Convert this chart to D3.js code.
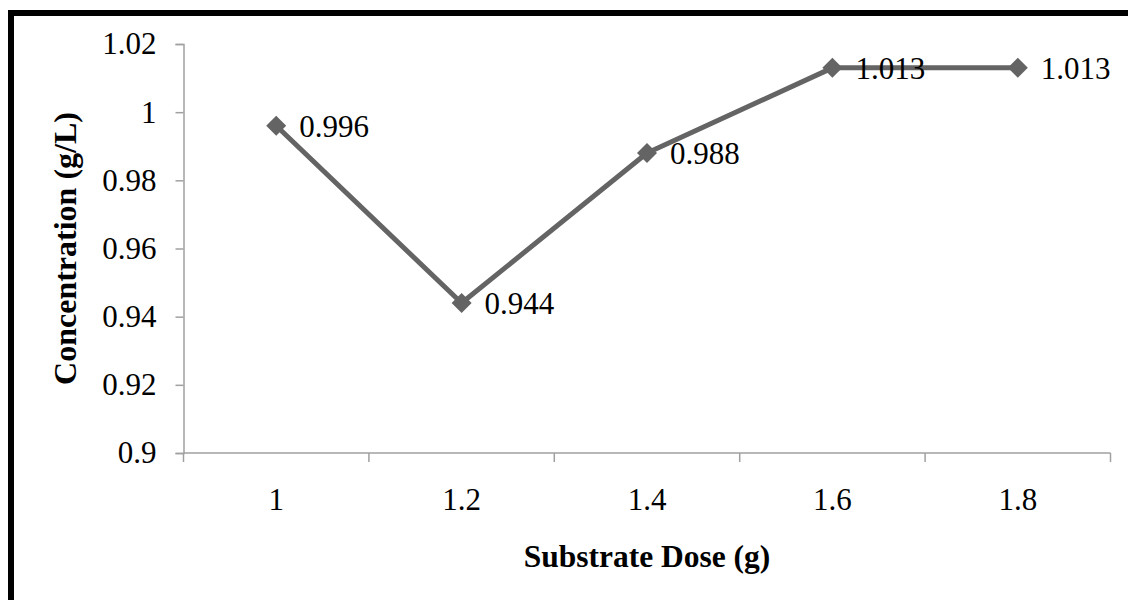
<!DOCTYPE html>
<html>
<head>
<meta charset="utf-8">
<script src="https://cdn.jsdelivr.net/npm/d3@7"></script>
<style>
  html, body { margin: 0; padding: 0; background: #fff; }
  svg { display: block; }
  text { font-family: "Liberation Serif", "Times New Roman", serif; fill: #000; }
</style>
</head>
<body>
<div id="chart"></div>
<script>
/* ── Data ─────────────────────────────────────────────────────────── */

const doses = ['1', '1.2', '1.4', '1.6', '1.8'];
const concentration = [0.996, 0.944, 0.988, 1.013, 1.013];
const pointLabels = ['0.996', '0.944', '0.988', '1.013', '1.013'];
const yTicks = [0.9, 0.92, 0.94, 0.96, 0.98, 1, 1.02];

/* ── Layout ───────────────────────────────────────────────────────── */

const width = 1128;
const height = 600;
const plot = { left: 183.5, right: 1110.5, top: 44, bottom: 453 };
const lineColor = '#646464';
const axisColor = '#a0a0a0';
const fontSize = 31;

const svg = d3.select('#chart')
  .append('svg')
  .attr('width', width)
  .attr('height', height);

svg.append('rect')
  .attr('width', width)
  .attr('height', height)
  .attr('fill', '#fff');

// Outer chart frame (only top and left edges fall inside the picture)
svg.append('rect')
  .attr('x', 11)
  .attr('y', 13)
  .attr('width', width + 20)
  .attr('height', height + 20)
  .attr('fill', 'none')
  .attr('stroke', '#000')
  .attr('stroke-width', 6);

/* ── Scales ───────────────────────────────────────────────────────── */

const x = d3.scaleBand()
  .domain(doses)
  .range([plot.left, plot.right])
  .paddingInner(0)
  .paddingOuter(0);

const y = d3.scaleLinear()
  .domain([0.9, 1.02])
  .range([plot.bottom, plot.top]);

const cx = d => x(d) + x.bandwidth() / 2;

/* ── Y axis ───────────────────────────────────────────────────────── */

const yAxis = d3.axisLeft(y)
  .tickValues(yTicks)
  .tickFormat(d3.format('~g'))
  .tickSize(8)
  .tickPadding(19);

const yG = svg.append('g')
  .attr('transform', `translate(${plot.left},0)`)
  .call(yAxis);

yG.select('.domain').attr('stroke', axisColor).attr('stroke-width', 1.5);
yG.selectAll('.tick line').attr('stroke', axisColor).attr('stroke-width', 1.5);
yG.selectAll('.tick text')
  .attr('font-size', fontSize)
  .attr('font-family', '"Liberation Serif", serif')
  .attr('fill', '#000');

/* ── X axis (ticks between categories) ────────────────────────────── */

const xG = svg.append('g')
  .attr('transform', `translate(0,${plot.bottom})`)
  .call(d3.axisBottom(x).tickSize(0).tickPadding(0));

xG.select('.domain').remove();
xG.selectAll('.tick line').remove();
xG.selectAll('.tick text')
  .attr('y', 57)
  .attr('dy', 0)
  .attr('font-size', fontSize)
  .attr('font-family', '"Liberation Serif", serif')
  .attr('fill', '#000');

xG.append('line')
  .attr('x1', plot.left)
  .attr('x2', plot.right)
  .attr('stroke', axisColor)
  .attr('stroke-width', 1.5);

const boundaries = doses.map(d => x(d)).concat([plot.right]);
xG.selectAll('line.sep')
  .data(boundaries)
  .join('line')
  .attr('class', 'sep')
  .attr('x1', d => d)
  .attr('x2', d => d)
  .attr('y1', 0)
  .attr('y2', 9)
  .attr('stroke', axisColor)
  .attr('stroke-width', 1.5);

/* ── Axis titles ──────────────────────────────────────────────────── */

svg.append('text')
  .attr('x', (plot.left + plot.right) / 2)
  .attr('y', 567)
  .attr('text-anchor', 'middle')
  .attr('font-size', 31.5)
  .attr('font-weight', 'bold')
  .text('Substrate Dose (g)');

svg.append('text')
  .attr('transform', `translate(76,${(plot.top + plot.bottom) / 2}) rotate(-90)`)
  .attr('text-anchor', 'middle')
  .attr('font-size', 32)
  .attr('font-weight', 'bold')
  .text('Concentration (g/L)');

/* ── Series ───────────────────────────────────────────────────────── */

const points = doses.map((d, i) => ({ dose: d, value: concentration[i], label: pointLabels[i] }));

svg.append('path')
  .datum(points)
  .attr('fill', 'none')
  .attr('stroke', lineColor)
  .attr('stroke-width', 5)
  .attr('stroke-linejoin', 'round')
  .attr('d', d3.line().x(d => cx(d.dose)).y(d => y(d.value)));

svg.append('g')
  .selectAll('path')
  .data(points)
  .join('path')
  .attr('transform', d => `translate(${cx(d.dose)},${y(d.value)})`)
  .attr('d', 'M0,-10L10,0L0,10L-10,0Z')
  .attr('fill', lineColor);

svg.append('g')
  .selectAll('text')
  .data(points)
  .join('text')
  .attr('x', d => cx(d.dose) + 23)
  .attr('y', d => y(d.value))
  .attr('dy', '0.35em')
  .attr('font-size', fontSize)
  .text(d => d.label);
</script>
</body>
</html>
